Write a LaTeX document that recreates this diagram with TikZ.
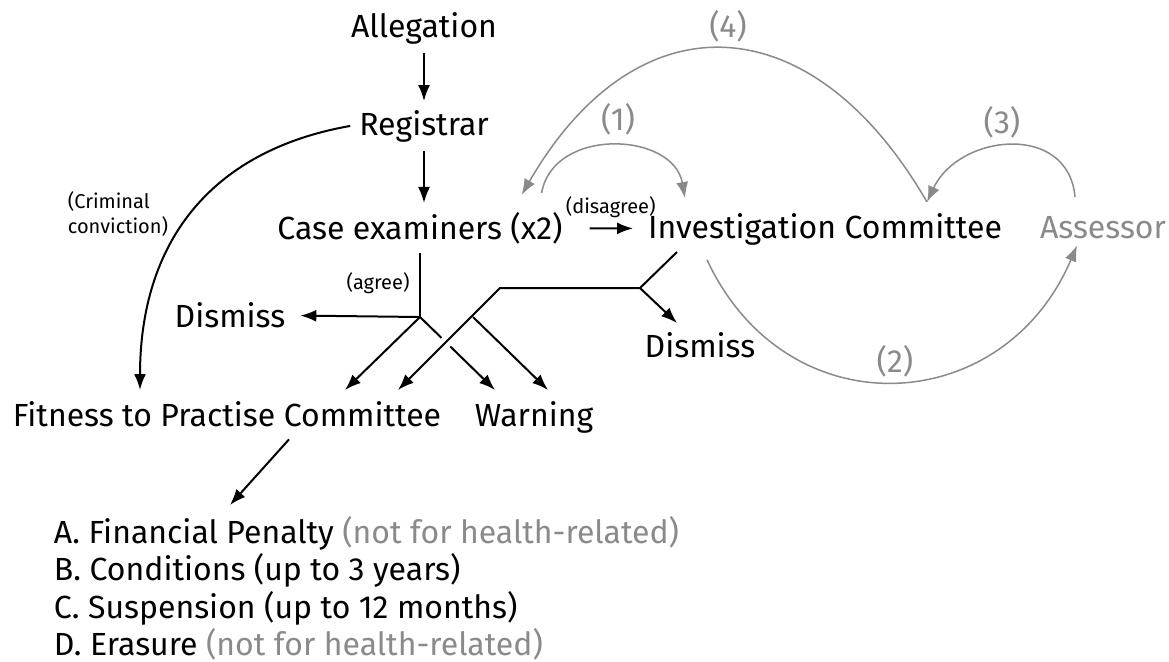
\documentclass[tikz,border=0pt]{standalone}
\usepackage{fontspec}
\setmainfont{Fira Sans}
\usetikzlibrary{arrows.meta}
\definecolor{greytone}{HTML}{8A8A8A}

\begin{document}
\begin{tikzpicture}[x=0.5pt, y=-0.5pt, line width=1pt,
  >={Latex[length=8pt,width=6pt]},
  main/.style = {inner sep=4pt, anchor=base, font=\fontsize{16}{19}\selectfont},
  small/.style = {inner sep=2pt, font=\fontsize{10}{12.5}\selectfont},
  grey/.style = {draw=greytone, line width=0.75pt},
  num/.style = {main, text=greytone}]
\useasboundingbox (0,0) rectangle (1169,661);

% main column
\node[main] (alleg) at (424,37) {Allegation};
\node[main] (reg) at (424,135) {Registrar};
\node[main] (ce) at (420,239) {Case examiners (x2)};
\node[main] (ic) at (825,238) {Investigation Committee};
\node[main, text=greytone] (ass) at (1103,238) {Assessor};
\node[main] (dis1) at (230,327) {Dismiss};
\node[main] (dis2) at (700,357) {Dismiss};
\node[main] (ftp) at (227,426) {Fitness to Practise Committee};
\node[main] (warn) at (534,426) {Warning};
\node[small, align=left] (crim) at (118,214) {(Criminal\\conviction)};
\node[small] (agree) at (378,283) {(agree)};

% outcomes
\node[main, anchor=base west] (optA) at (45,543) {A. Financial Penalty \textcolor{greytone}{(not for health-related)}};
\node[main, anchor=base west] (optB) at (45,580) {B. Conditions (up to 3 years)};
\node[main, anchor=base west] (optC) at (45,618) {C. Suspension (up to 12 months)};
\node[main, anchor=base west] (optD) at (45,655) {D. Erasure \textcolor{greytone}{(not for health-related)}};

% branch points
\coordinate (j1) at (420,317);
\coordinate (k0) at (677,252);
\coordinate (k1) at (640,288);
\coordinate (k2) at (500,288);
\coordinate (k3) at (473,317);
\coordinate (ftpa) at (345,390);
\coordinate (ftpb) at (398,390);
\coordinate (warna) at (495,390);
\coordinate (warnb) at (548,390);
\coordinate (ftpc) at (140,390);
\coordinate (opts) at (230,505);

\draw[->] (alleg) -- (reg);
\draw[->] (reg) -- (reg |- ce.north);
\draw[->, shorten <=9pt, shorten >=3pt] (ce) -- node[small, above=3pt, pos=0.58] (disag) {(disagree)} (ic);
\draw[->] (reg.west) to [out=190,in=90,looseness=1.1] (ftpc);

\draw (ce.south -| j1) -- (j1);
\draw[->, shorten >=3pt] (j1) -- (dis1);
\draw[->] (j1) -- (ftpa);
\draw[->] (j1) -- (warna);
\draw[->, preaction={draw, white, line width=6pt}] (k0) -- (k1) -- (k2) -- (ftpb);
\draw[->] (k1) -- (dis2);
\draw[->] (k3) -- (warnb);
\draw[->] ([xshift=31pt,yshift=-2pt]ftp.south) -- (opts);

% loops with the assessor
\draw[grey,->] ([xshift=-15pt,yshift=5pt]ce.north east) to [out=80,in=100,looseness=1.2] ([xshift=-70pt,yshift=3pt]ic.north);
\draw[grey,->] ([xshift=-59pt,yshift=-3pt]ic.south) to [out=-65,in=247,looseness=1.3] ([xshift=-13pt,yshift=1pt]ass.south);
\draw[grey,->] ([xshift=-14pt,yshift=5pt]ass.north) to [out=95,in=65,looseness=1.3] ([xshift=51pt,yshift=1pt]ic.north);
\draw[grey,->] ([xshift=51pt,yshift=1pt]ic.north) to [out=120,in=60,looseness=1.45] ([xshift=-25pt,yshift=4pt]ce.north east);

\node[num] (n1) at (618,130) {(1)};
\node[num] (n2) at (895,372) {(2)};
\node[num] (n3) at (1002,133) {(3)};
\node[num] (n4) at (728,37) {(4)};
\end{tikzpicture}
\end{document}
